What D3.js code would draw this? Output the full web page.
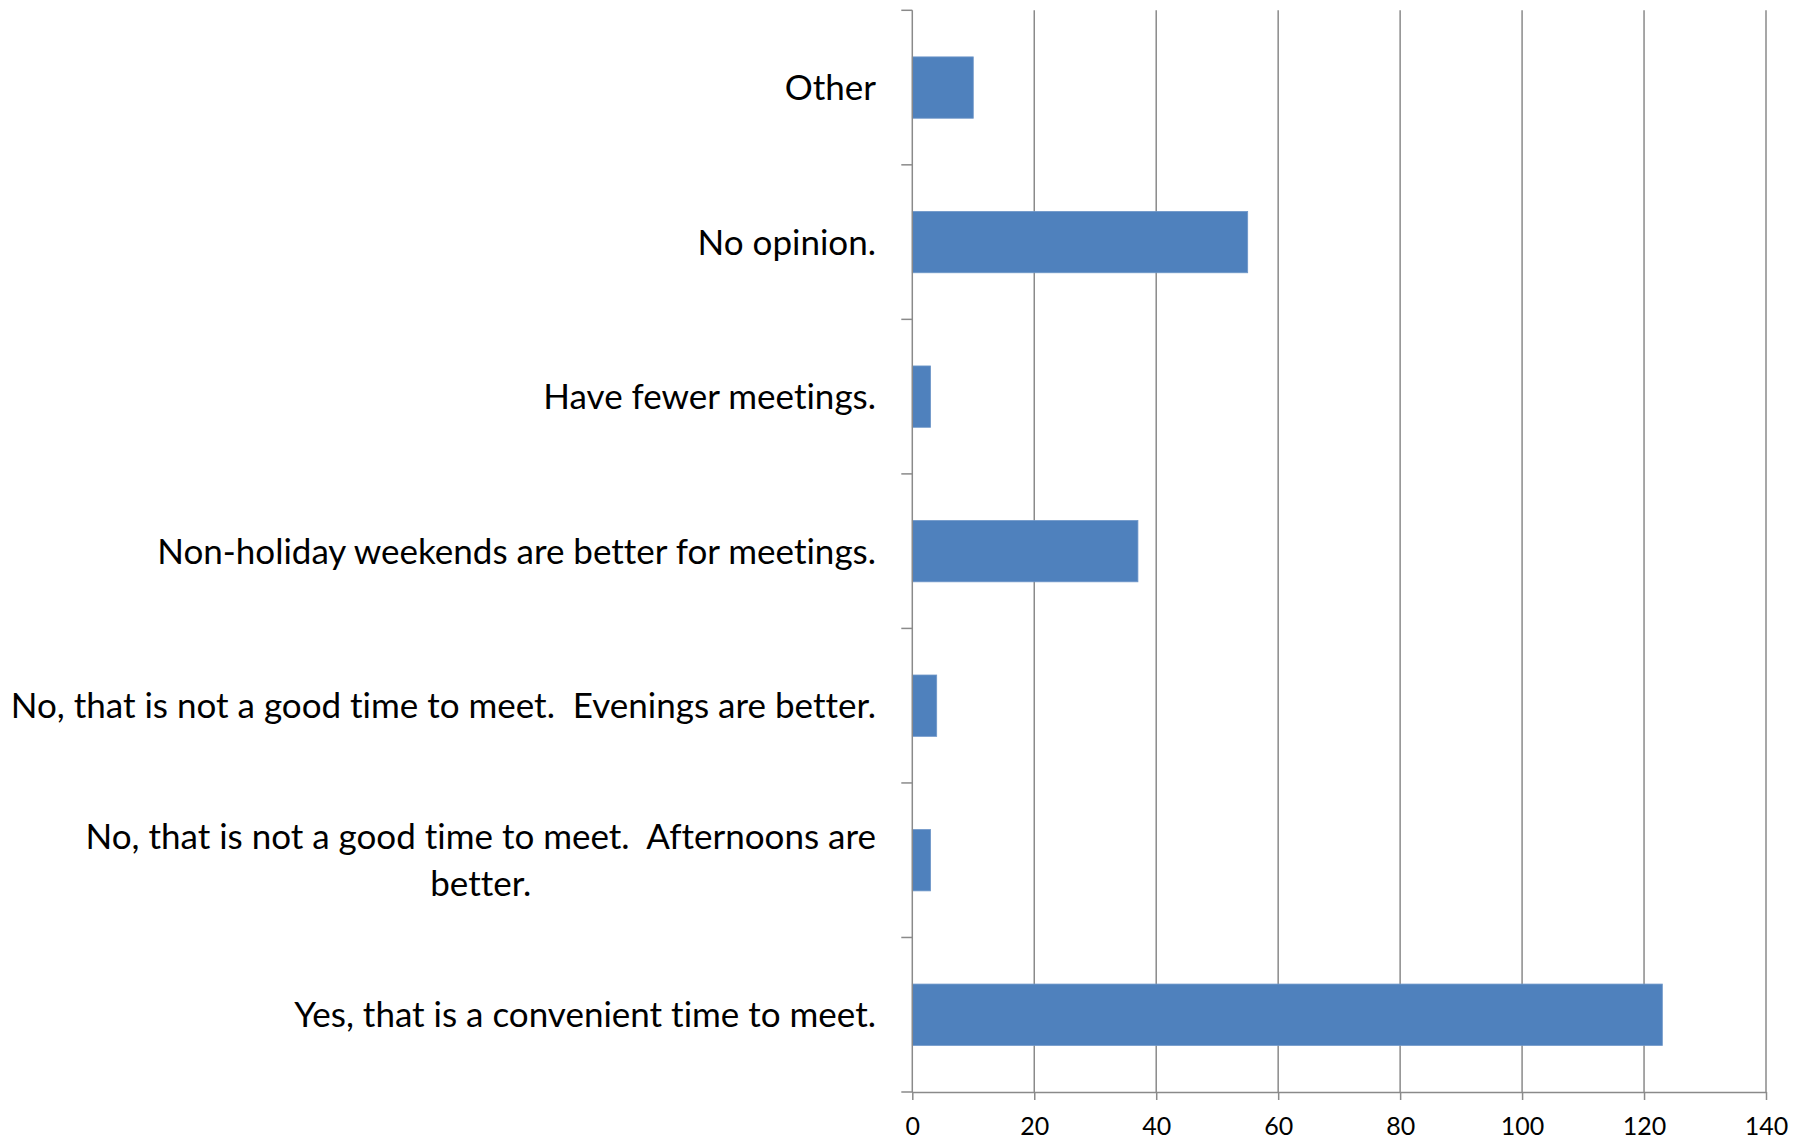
<!DOCTYPE html>
<html>
<head>
<meta charset="utf-8">
<script src="https://cdn.jsdelivr.net/npm/d3@7"></script>
<style>
  html, body { margin: 0; padding: 0; background: #ffffff; }
  svg { display: block; }
  text { font-variant-ligatures: none; }
</style>
</head>
<body>
<div id="chart"></div>
<script>
// ---- data ----
const categories = [
  "Other",
  "No opinion.",
  "Have fewer meetings.",
  "Non-holiday weekends are better for meetings.",
  "No, that is not a good time to meet.  Evenings are better.",
  "No, that is not a good time to meet.  Afternoons are\nbetter.",
  "Yes, that is a convenient time to meet."
];
const values = [10, 55, 3, 37, 4, 3, 123];
const xTicks = [0, 20, 40, 60, 80, 100, 120, 140];

// ---- layout ----
const W = 1806, H = 1141;
const plotLeft = 912.3, plotRight = 1766, plotTop = 10.3, plotBottom = 1092;
const axisColor = "#8a8a8a";
const barColor = "#4F81BD";
const font = "Lato, 'Open Sans', sans-serif";

const svg = d3.select("#chart").append("svg")
  .attr("width", W).attr("height", H);

const x = d3.scaleLinear().domain([0, 140]).range([plotLeft, plotRight]);
const y = d3.scaleBand().domain(categories).range([plotTop, plotBottom])
  .paddingInner(0.603).paddingOuter(0.3015);

// vertical gridlines
svg.append("g").selectAll("line")
  .data(xTicks.filter(d => d > 0))
  .join("line")
  .attr("x1", d => x(d)).attr("x2", d => x(d))
  .attr("y1", plotTop).attr("y2", plotBottom)
  .attr("stroke", axisColor).attr("stroke-width", 1.5);

// bars
svg.append("g").selectAll("rect")
  .data(categories)
  .join("rect")
  .attr("x", x(0))
  .attr("y", d => y(d))
  .attr("width", (d, i) => x(values[i]) - x(0))
  .attr("height", y.bandwidth())
  .attr("fill", barColor)
  .attr("stroke", "#6f97c9")
  .attr("stroke-width", 0.8);

// y axis line and category boundary ticks
const gy = svg.append("g");
gy.append("line")
  .attr("x1", x(0)).attr("x2", x(0))
  .attr("y1", plotTop).attr("y2", plotBottom)
  .attr("stroke", axisColor).attr("stroke-width", 1.5);
const boundaries = d3.range(categories.length + 1).map(i => y.range()[0] + i * y.step());
gy.selectAll("line.tick")
  .data(boundaries)
  .join("line")
  .attr("class", "tick")
  .attr("x1", x(0) - 11).attr("x2", x(0))
  .attr("y1", d => d).attr("y2", d => d)
  .attr("stroke", axisColor).attr("stroke-width", 1.5);

// x axis
const xAxis = d3.axisBottom(x).tickValues(xTicks).tickSize(8).tickSizeOuter(0);
const gx = svg.append("g")
  .attr("transform", `translate(0,${plotBottom})`)
  .call(xAxis);
gx.select(".domain").attr("stroke", axisColor).attr("stroke-width", 1.5);
gx.selectAll(".tick line").attr("stroke", axisColor).attr("stroke-width", 1.5);
gx.selectAll(".tick text")
  .attr("y", 43).attr("dy", 0)
  .attr("fill", "#000")
  .style("font-family", font)
  .style("font-size", "25px");

// category labels
const lineH = 47;
const labels = svg.append("g");
categories.forEach((c, i) => {
  const lines = c.split("\n");
  const cy = y(c) + y.bandwidth() / 2;
  const t = labels.append("text")
    .attr("text-anchor", lines.length > 1 ? "middle" : "end")
    .style("font-family", font)
    .style("font-size", "35px")
    .style("white-space", "pre")
    .attr("fill", "#000");
  const x0 = 876;
  lines.forEach((ln, j) => {
    const by = cy + 12.5 + (j - (lines.length - 1) / 2) * lineH;
    t.append("tspan").attr("x", x0).attr("y", by).text(ln);
  });
  if (lines.length > 1) {
    const widths = [];
    t.selectAll("tspan").each(function() { widths.push(this.getComputedTextLength()); });
    const wmax = d3.max(widths);
    t.selectAll("tspan").attr("x", x0 - wmax / 2);
  }
});
</script>
</body>
</html>
